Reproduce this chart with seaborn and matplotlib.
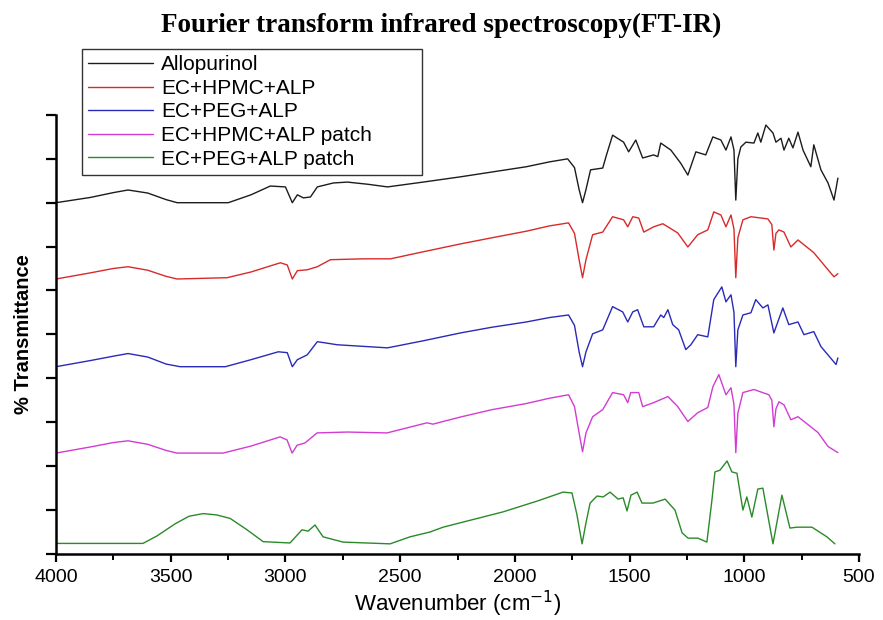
import matplotlib
matplotlib.use("Agg")
import matplotlib.pyplot as plt
import seaborn as sns
import pandas as pd
from matplotlib.ticker import MultipleLocator

# ---------------- data ----------------
series_names = ["Allopurinol", "EC+HPMC+ALP", "EC+PEG+ALP",
                "EC+HPMC+ALP patch", "EC+PEG+ALP patch"]

wn_allopurinol = [4000, 3850, 3750, 3686, 3600, 3520, 3472, 3249, 3150, 3066, 3000, 2970, 2948, 2922,
                  2891, 2861, 2791, 2730, 2640, 2555, 2400, 2237, 2100, 1950, 1850, 1770, 1740, 1720,
                  1705, 1690, 1670, 1617, 1600, 1574, 1526, 1504, 1473, 1443, 1395, 1377, 1364, 1320,
                  1277, 1246, 1211, 1168, 1137, 1102, 1080, 1058, 1045, 1037, 1028, 1015, 993, 958,
                  941, 928, 906, 875, 862, 840, 827, 806, 788, 766, 744, 710, 697, 666, 635, 609, 592]
t_allopurinol = [8.0, 8.12, 8.23, 8.29, 8.22, 8.07, 8.0, 8.0, 8.18, 8.38, 8.36, 8.0, 8.18, 8.11,
                 8.13, 8.36, 8.45, 8.47, 8.42, 8.36, 8.47, 8.59, 8.7, 8.82, 8.93, 9.0, 8.8, 8.3,
                 8.0, 8.3, 8.75, 8.79, 9.1, 9.54, 9.38, 9.16, 9.43, 9.02, 9.09, 9.05, 9.36, 9.2,
                 8.9, 8.63, 9.16, 9.09, 9.5, 9.43, 9.2, 9.5, 9.2, 8.06, 9.0, 9.27, 9.38, 9.36,
                 9.59, 9.38, 9.77, 9.59, 9.38, 9.47, 9.2, 9.47, 9.25, 9.61, 9.2, 8.82, 9.32, 8.75,
                 8.45, 8.06, 8.56]

wn_ec_hpmc = [4000, 3850, 3750, 3686, 3600, 3520, 3472, 3254, 3150, 3022, 2992, 2970, 2948, 2905,
              2861, 2804, 2660, 2542, 2400, 2237, 2100, 1950, 1850, 1766, 1740, 1720, 1705, 1690,
              1661, 1617, 1574, 1526, 1508, 1486, 1460, 1438, 1395, 1355, 1290, 1246, 1203, 1159,
              1133, 1102, 1080, 1058, 1045, 1037, 1028, 1006, 971, 897, 880, 871, 862, 849, 827,
              797, 766, 697, 635, 609, 592]
t_ec_hpmc = [6.26, 6.4, 6.5, 6.54, 6.46, 6.32, 6.26, 6.29, 6.42, 6.63, 6.58, 6.26, 6.45, 6.47,
             6.54, 6.70, 6.72, 6.72, 6.88, 7.06, 7.2, 7.35, 7.47, 7.54, 7.3, 6.7, 6.29, 6.7,
             7.27, 7.33, 7.68, 7.61, 7.45, 7.68, 7.65, 7.33, 7.45, 7.52, 7.31, 6.99, 7.27, 7.38,
             7.79, 7.72, 7.45, 7.72, 7.4, 6.29, 7.2, 7.61, 7.68, 7.63, 7.5, 6.92, 7.3, 7.38, 7.33,
             6.99, 7.15, 6.86, 6.47, 6.31, 6.38]

wn_ec_peg = [4000, 3850, 3750, 3686, 3600, 3520, 3459, 3262, 3150, 3031, 2992, 2970, 2948, 2905,
             2861, 2835, 2774, 2555, 2400, 2237, 2100, 1950, 1850, 1766, 1740, 1720, 1705, 1690,
             1661, 1617, 1574, 1530, 1508, 1486, 1465, 1438, 1395, 1364, 1351, 1333, 1312, 1286,
             1255, 1233, 1203, 1159, 1133, 1098, 1080, 1058, 1045, 1037, 1028, 1006, 971, 950,
             919, 897, 871, 832, 806, 766, 740, 697, 666, 600, 592]
t_ec_peg = [4.26, 4.4, 4.5, 4.56, 4.48, 4.32, 4.26, 4.26, 4.42, 4.60, 4.58, 4.26, 4.42, 4.53,
            4.83, 4.81, 4.76, 4.69, 4.85, 5.03, 5.16, 5.28, 5.38, 5.44, 5.2, 4.6, 4.26, 4.6,
            5.01, 5.10, 5.63, 5.51, 5.28, 5.51, 5.56, 5.17, 5.17, 5.44, 5.38, 5.56, 5.22, 5.10,
            4.65, 4.76, 4.99, 4.94, 5.79, 6.08, 5.74, 5.90, 5.5, 4.26, 5.1, 5.44, 5.49, 5.79,
            5.60, 5.67, 5.03, 5.60, 5.22, 5.28, 4.99, 5.06, 4.72, 4.31, 4.46]

wn_ec_hpmc_patch = [4000, 3850, 3750, 3686, 3600, 3520, 3472, 3272, 3150, 3023, 2993, 2971, 2949,
                    2915, 2862, 2731, 2557, 2383, 2357, 2239, 2100, 1950, 1850, 1766, 1740, 1720,
                    1705, 1690, 1661, 1617, 1574, 1526, 1508, 1495, 1460, 1443, 1395, 1333, 1290,
                    1246, 1203, 1159, 1137, 1111, 1080, 1058, 1045, 1037, 1028, 1006, 958, 893,
                    880, 871, 862, 849, 827, 797, 766, 679, 635, 592]
t_ec_hpmc_patch = [2.29, 2.43, 2.53, 2.57, 2.49, 2.35, 2.29, 2.29, 2.45, 2.66, 2.59, 2.29, 2.47,
                   2.52, 2.75, 2.77, 2.75, 2.98, 2.95, 3.11, 3.28, 3.42, 3.54, 3.62, 3.35, 2.75,
                   2.32, 2.75, 3.12, 3.28, 3.67, 3.62, 3.44, 3.67, 3.67, 3.35, 3.44, 3.58, 3.35,
                   3.01, 3.21, 3.33, 3.80, 4.08, 3.62, 3.78, 3.4, 2.30, 3.2, 3.67, 3.74, 3.62,
                   3.5, 2.89, 3.3, 3.46, 3.39, 3.05, 3.12, 2.76, 2.44, 2.30]

wn_ec_peg_patch = [4000, 3621, 3560, 3480, 3420, 3359, 3300, 3241, 3170, 3097, 2980, 2928, 2901,
                   2871, 2836, 2749, 2544, 2457, 2370, 2313, 2051, 1900, 1790, 1751, 1730, 1707,
                   1690, 1672, 1642, 1615, 1585, 1550, 1528, 1511, 1494, 1467, 1446, 1398, 1345,
                   1302, 1271, 1245, 1202, 1163, 1141, 1128, 1106, 1075, 1054, 1032, 1006, 989,
                   967, 941, 919, 875, 836, 801, 771, 705, 640, 605]
t_ec_peg_patch = [0.23, 0.23, 0.4, 0.68, 0.85, 0.91, 0.88, 0.80, 0.55, 0.27, 0.24, 0.54, 0.51,
                  0.65, 0.38, 0.26, 0.22, 0.38, 0.49, 0.60, 0.95, 1.2, 1.40, 1.38, 0.9, 0.22,
                  0.7, 1.15, 1.31, 1.29, 1.40, 1.24, 1.27, 0.97, 1.33, 1.40, 1.15, 1.15, 1.24,
                  0.99, 0.47, 0.35, 0.35, 0.26, 1.22, 1.86, 1.90, 2.11, 1.86, 1.83, 0.99, 1.29,
                  0.83, 1.47, 1.49, 0.22, 1.33, 0.58, 0.60, 0.60, 0.38, 0.22]

x_ticks = [4000, 3500, 3000, 2500, 2000, 1500, 1000, 500]

# ---------------- build long-form table ----------------
all_wn = [wn_allopurinol, wn_ec_hpmc, wn_ec_peg, wn_ec_hpmc_patch, wn_ec_peg_patch]
all_t = [t_allopurinol, t_ec_hpmc, t_ec_peg, t_ec_hpmc_patch, t_ec_peg_patch]
frames = []
for name, w, t in zip(series_names, all_wn, all_t):
    frames.append(pd.DataFrame({"wavenumber": w, "transmittance": t, "sample": name}))
df = pd.concat(frames, ignore_index=True)

palette = {
    "Allopurinol": "#1c1c1c",
    "EC+HPMC+ALP": "#d82a2a",
    "EC+PEG+ALP": "#2a2ab8",
    "EC+HPMC+ALP patch": "#d23cd2",
    "EC+PEG+ALP patch": "#2a8a2a",
}

sns.set_theme(style="ticks")
plt.rcParams["font.family"] = ["Liberation Sans", "DejaVu Sans"]

fig = plt.figure(figsize=(8.83, 6.2), dpi=100)
ax = fig.add_axes([56 / 883, 1 - 553.5 / 620, 803 / 883, 438.5 / 620])

sns.lineplot(data=df, x="wavenumber", y="transmittance", hue="sample",
             hue_order=series_names, palette=palette, estimator=None,
             sort=False, linewidth=1.0, ax=ax)

ax.set_xlim(4000, 500)
ax.set_ylim(0, 10)
ax.set_xticks(x_ticks)
ax.set_xticklabels([str(v) for v in x_ticks])
ax.xaxis.set_minor_locator(MultipleLocator(250))
ax.set_yticks(range(0, 11))
ax.set_yticklabels([])

for s in ["top", "right"]:
    ax.spines[s].set_visible(False)
for s in ["left", "bottom"]:
    ax.spines[s].set_linewidth(1.8)
    ax.spines[s].set_color("black")

ax.tick_params(axis="x", which="major", direction="out", length=6, width=1.6,
               labelsize=14, pad=5, colors="black")
ax.tick_params(axis="x", which="minor", direction="out", length=4, width=1.4, colors="black")
ax.tick_params(axis="y", which="major", direction="out", length=7, width=1.6, colors="black")

ax.set_xlabel("Wavenumber (cm$^{-1}$)", fontsize=16, color="black")
ax.xaxis.set_label_coords(0.50, -0.08)
ax.set_ylabel("% Transmittance", fontsize=14.5, fontweight="bold", color="black")
ax.yaxis.set_label_coords(-0.029, 0.5)

handles, labels = ax.get_legend_handles_labels()
leg = ax.legend(handles, labels, loc="upper left", mode="expand",
                bbox_to_anchor=(82 / 883, 1 - 173 / 620, 340 / 883, 124 / 620),
                bbox_transform=fig.transFigure,
                fontsize=15, frameon=True, fancybox=False, framealpha=1,
                edgecolor="#333333", handlelength=3.1, handletextpad=0.4,
                labelspacing=0.22, borderpad=0.3, borderaxespad=0,
                labelcolor="black")
leg.get_frame().set_linewidth(1.0)
for line in leg.get_lines():
    line.set_linewidth(1.0)

fig.text(0.5, 1 - 32 / 620, "Fourier transform infrared spectroscopy(FT-IR)",
         ha="center", va="baseline", fontsize=19.5, fontweight="bold",
         family=["Liberation Serif", "DejaVu Serif"], color="black")

fig.savefig("out.png", dpi=100)
